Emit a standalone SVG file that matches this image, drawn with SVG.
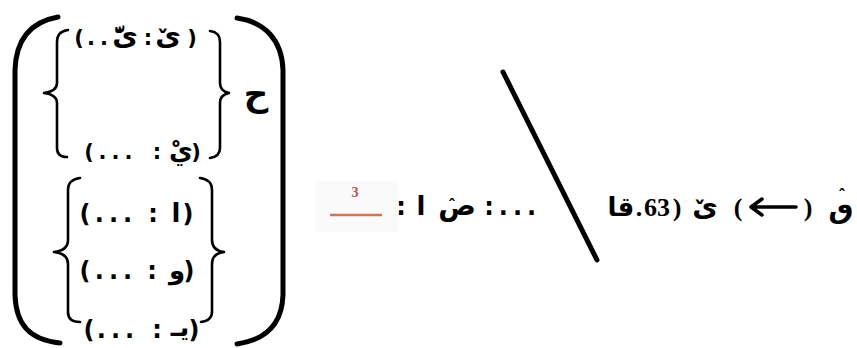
<svg xmlns="http://www.w3.org/2000/svg" width="857" height="348" viewBox="0 0 857 348">
<style>
.ln{fill:none;stroke:#000;stroke-linecap:round;stroke-linejoin:round}
.big{stroke-width:5}
.br{stroke-width:2.6}
.ar{font-family:"DejaVu Sans","Noto Sans",sans-serif;font-weight:bold;fill:#000;text-anchor:middle}
.num{font-family:"Liberation Serif",serif;font-weight:bold;fill:#000;text-anchor:middle;direction:ltr;unicode-bidi:bidi-override}
.p{font-family:"DejaVu Sans",sans-serif;font-weight:bold;fill:#000;text-anchor:middle;direction:ltr;unicode-bidi:bidi-override}
.dots{letter-spacing:5px}
</style>
<rect width="857" height="348" fill="#fff"/>
<g id="big-parens">
<path class="ln big" d="M58,17 C30,22 16,40 15,70 L15,295 C16,325 30,340 60,343"/>
<path class="ln big" d="M237,18 C265,22 282,40 283,70 L283,295 C282,325 265,340 237,344"/>
</g>
<g id="brace-top">
<path class="ln br" d="M68,30 C60,31 57,35 57,42 L57,83 C57,89 52,92 44,93 C52,94 57,97 57,103 L57,148 C57,154 60,157 67,157"/>
<path class="ln br" d="M210,31 C217,32 220,35 220,42 L220,83 C220,89 224,92 229,93 C224,94 220,97 220,103 L220,148 C220,154 217,157 210,158"/>
<g id="line1" font-size="21">
<text class="p" x="79" y="45">(</text>
<text class="p dots" x="100" y="45">..</text>
<text class="ar" x="125" y="45" font-size="28">ىّٚ</text>
<text class="p" x="148" y="45">:</text>
<text class="ar" x="168" y="45" font-size="28">ىٚ</text>
<text class="p" x="192" y="45">)</text>
</g>
<g id="line2" font-size="21">
<text class="p" x="89" y="159">(</text>
<text class="p dots" x="118" y="159">...</text>
<text class="p" x="157" y="159">:</text>
<text class="ar" x="181" y="159" font-size="26">يْ</text>
<text class="p" x="196" y="159">)</text>
</g>
</g>
<g id="ha">
<text class="ar" x="256" y="106" font-size="34">ح</text>
</g>
<g id="brace-bottom">
<path class="ln br" d="M80,178 C72,179 68,183 68,190 L68,240 C68,247 63,251 54,252 C63,253 68,257 68,264 L68,312 C68,318 71,322 80,322"/>
<path class="ln br" d="M200,178 C208,179 212,183 212,190 L212,240 C212,247 216,251 224,252 C216,253 212,257 212,264 L212,312 C212,318 208,321 201,322"/>
<g id="line3" font-size="24">
<text class="p" x="85" y="222">(</text>
<text class="p dots" x="116" y="222">...</text>
<text class="p" x="153" y="222">:</text>
<text class="ar" x="176" y="222" font-size="26">ا</text>
<text class="p" x="188" y="222">)</text>
</g>
<g id="line4" font-size="24">
<text class="p" x="85" y="279">(</text>
<text class="p dots" x="116" y="279">...</text>
<text class="p" x="152" y="279">:</text>
<text class="ar" x="177" y="279" font-size="26">و</text>
<text class="p" x="189" y="279">)</text>
</g>
<g id="line5" font-size="24">
<text class="p" x="89" y="338">(</text>
<text class="p dots" x="118" y="338">...</text>
<text class="p" x="157" y="338">:</text>
<text class="ar" x="180" y="336" font-size="26">يـ</text>
<text class="p" x="194" y="338">)</text>
</g>
</g>
<g id="footnote">
<rect x="315" y="181" width="83" height="51" fill="#fafafa"/>
<text x="355" y="197" font-family="Liberation Serif,serif" font-weight="bold" font-size="14" fill="#c0504d" text-anchor="middle">3</text>
<line x1="330" y1="215" x2="382" y2="215" stroke="#e07058" stroke-width="2.5"/>
</g>
<g id="middle-text">
<text class="p" x="401" y="215" font-size="24">:</text>
<text class="ar" x="421" y="215" font-size="26">ا</text>
<text class="ar" x="457" y="215" font-size="28">ص</text>
<text class="p" x="452" y="211" font-size="16">ˆ</text>
<text class="p" x="489" y="215" font-size="24">:</text>
<text class="p dots" x="520" y="215" font-size="24">...</text>
</g>
<g id="slash">
<line class="ln" x1="503" y1="72" x2="597" y2="260" stroke-width="5"/>
</g>
<g id="right-text">
<text class="ar" x="621" y="216" font-size="26">قا</text>
<text class="num" x="639" y="216" font-size="26">.</text>
<text class="num" x="657" y="216" font-size="26">63</text>
<text class="num" x="677" y="216" font-size="26">)</text>
<text class="ar" x="705" y="216" font-size="28">ىٚ</text>
<text class="num" x="738" y="216" font-size="26">(</text>
<path class="ln" d="M796,207 L752,207 M762,199 L751,207 L762,215" stroke-width="3.5"/>
<text class="num" x="808" y="216" font-size="26">)</text>
<text class="ar" x="841" y="218" font-size="28">ٯ</text>
<text class="p" x="842" y="201" font-size="16">ˆ</text>
</g>
</svg>
